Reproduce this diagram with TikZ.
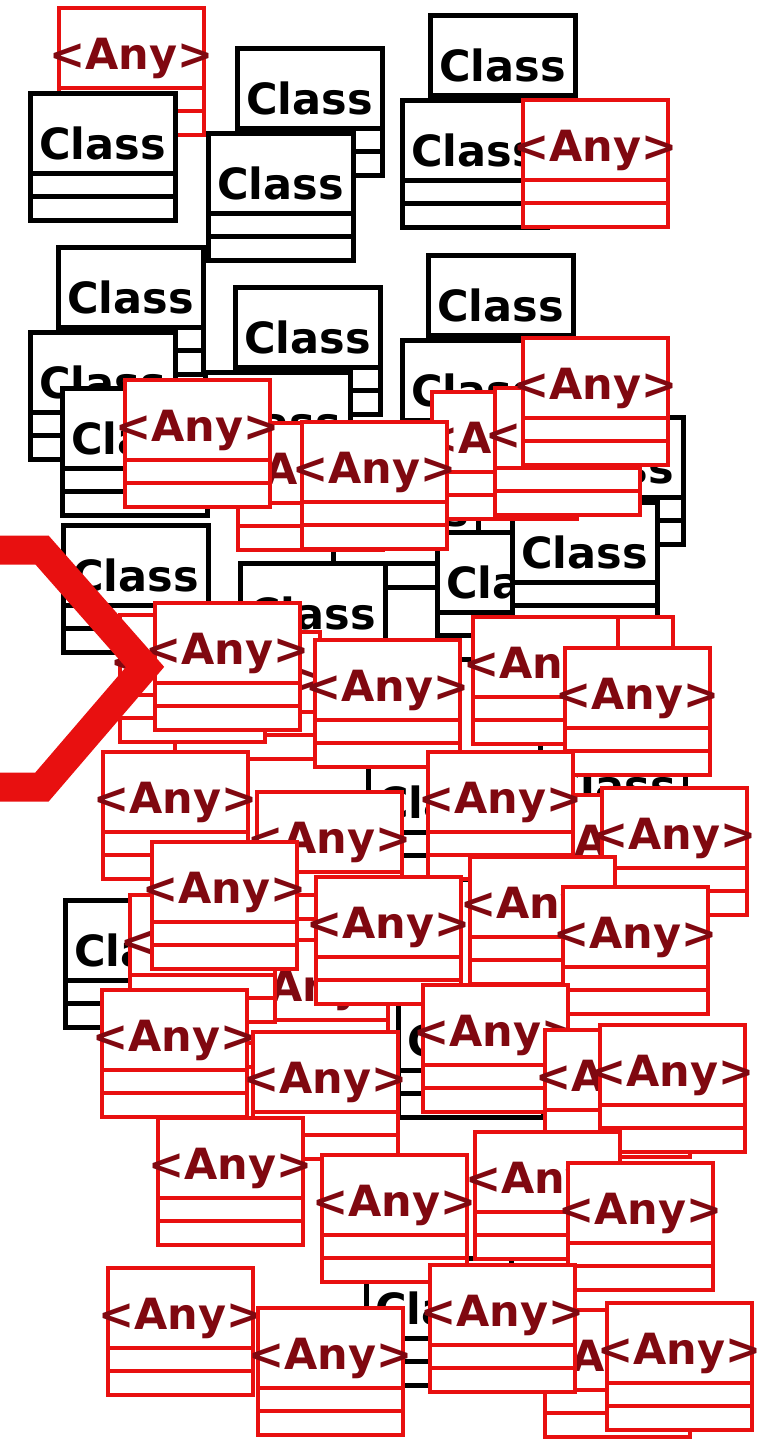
\documentclass[tikz,border=0pt]{standalone}
\usepackage{fontspec}
\newfontfamily\umlfont{DejaVu Sans}
\definecolor{boxred}{RGB}{232,16,16}
\definecolor{anytext}{RGB}{128,8,16}
\usetikzlibrary{positioning}
\newcommand{\boxfont}{\umlfont\bfseries\fontsize{43pt}{43pt}\selectfont}

\begin{document}
\begin{tikzpicture}[x=1pt, y=-1pt,
		umlbox/.style={line width=#1, fill=white, minimum width=145pt, minimum height=127pt,
			inner sep=0pt, outer sep=0pt, anchor=north west},
		rows/.style 2 args={path picture={
				\draw[#1, line width=#2] ([yshift=-80pt]path picture bounding box.north west) -- ([yshift=-80pt]path picture bounding box.north east)
				([yshift=-103pt]path picture bounding box.north west) -- ([yshift=-103pt]path picture bounding box.north east);}},
		classbox/.style={umlbox=5pt, draw=black, rows={black}{5pt},
			label={[font=\boxfont, text=black, yshift=13pt]center:Class}},
		anybox/.style={umlbox=4pt, draw=boxred, rows={boxred}{4pt},
			label={[font=\boxfont, text=anytext, yshift=13pt]center:<Any>}},
		hexline/.style={draw=boxred, line width=29pt, miter limit=10}
	]
	\useasboundingbox (0,0) rectangle (777,1441);
	% first template, hidden under the classes
	\node[anybox] (a1) at (59,8) {};
	% classes
	\foreach \n/\x/\y in {c1/30/93, c2/237/48, c3/208/133, c4/430/15, c5/402/100,
			c6/58/247, c7/30/332, c8/62/388, c9/235/287, c10/205/372, c11/428/255,
			c12/402/340, c13/538/417, c24/333/460, c15/437/532, c14/512/502,
			c16/63/525, c17/240/563, c18/540/735, c21/368/752, c19/65/900,
			c22/398/990, c20/366/1258}
		\node[classbox] (\n) at (\x,\y) {};
	% templates
	\foreach \n/\x/\y in {a2/523/100, a4/432/392, a5/495/388, a3/523/338,
			a7/238/423, a6/125/380, a8/302/422, a43/175/632, a10/120/615,
			a9/155/603, a11/315/640, a14/528/617, a13/473/617, a15/565/648,
			a16/103/752, a17/257/792, a21/548/795, a19/428/752, a20/602/788,
			a27/243/940, a23/130/895, a22/152/842, a24/316/877, a25/470/857,
			a26/563/887, a28/102/990, a29/253/1032, a30/423/985, a32/545/1030,
			a31/600/1025, a33/158/1118, a34/322/1155, a35/475/1132, a36/568/1163,
			a37/108/1268, a41/545/1310, a39/430/1265, a38/258/1308, a40/607/1303}
		\node[anybox] (\n) at (\x,\y) {};
	% hexagon
	\draw[hexline] (-30,550) -- (42,550) -- (145,667) -- (42,787) -- (-30,787);
\end{tikzpicture}
\end{document}
